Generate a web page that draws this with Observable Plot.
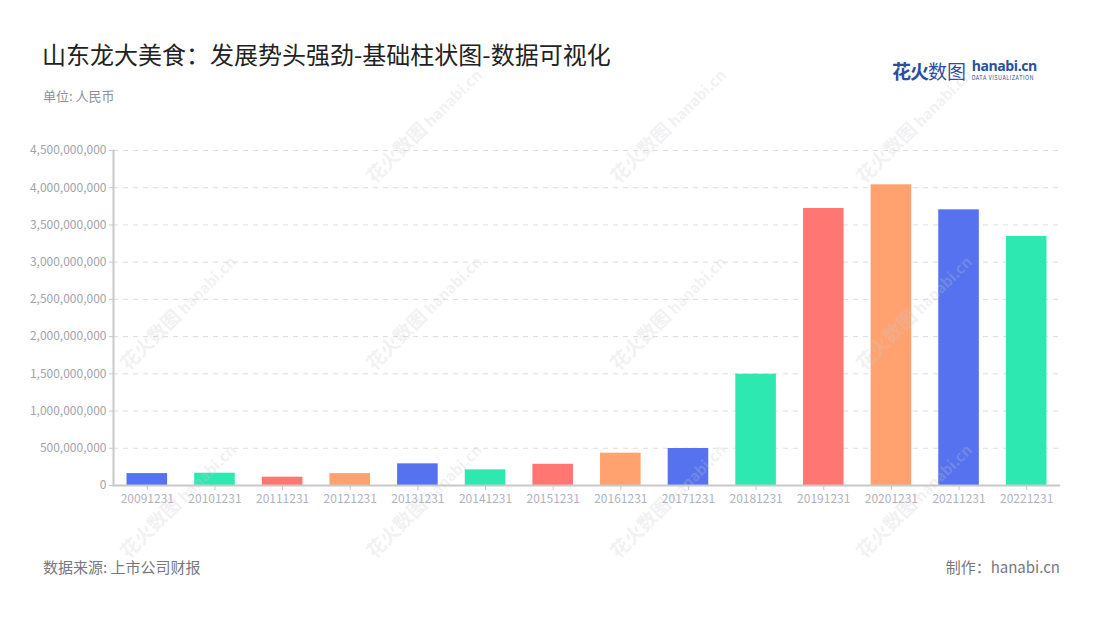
<!DOCTYPE html>
<html>
<head>
<meta charset="utf-8">
<script src="https://cdn.jsdelivr.net/npm/d3@7"></script>
<script src="https://cdn.jsdelivr.net/npm/@observablehq/plot@0.6"></script>
<style>
  html, body { margin: 0; padding: 0; background: #fff; }
  body { width: 1100px; height: 620px; position: relative; overflow: hidden; font-family: "Noto Sans CJK SC", "Noto Sans", sans-serif; }
  .abs { position: absolute; white-space: nowrap; }
  #title { left: 42px; top: 36px; font-size: 24px; color: #222; }
  #unit { left: 43px; top: 86px; font-size: 13px; color: #8f8f99; }
  #source { left: 43px; top: 556px; font-size: 15px; color: #77777f; }
  #maker { right: 40px; top: 556px; font-size: 15px; color: #77777f; }
  #logo { left: 892px; top: 57px; }
  #chart { left: 0; top: 130px; }
  .wm { position: absolute; color: rgba(200,200,205,0.25); font-weight: bold; font-size: 19px; transform: rotate(-45deg); transform-origin: left bottom; white-space: nowrap; pointer-events: none; }
  .wm span { font-size: 15px; font-weight: bold; margin-left: 4px; }
</style>
</head>
<body>
<div id="title" class="abs">山东龙大美食：发展势头强劲-基础柱状图-数据可视化</div>
<div id="unit" class="abs">单位: 人民币</div>
<div id="logo" class="abs">
  <span style="font-size:19px;font-weight:bold;color:#2b4f9e;letter-spacing:-1px;">花火</span><span style="font-size:19px;color:#2b4f9e;">数图</span>
  <span style="display:inline-block;vertical-align:top;margin-left:2px;margin-top:0px;">
    <span style="display:block;font-size:14px;line-height:17px;font-weight:bold;color:#2b4f9e;font-family:'Open Sans',sans-serif;letter-spacing:-0.4px;">hanabi.cn</span>
    <span style="display:block;font-size:5.5px;line-height:7px;margin-top:1px;color:#2b4f9e;letter-spacing:0.5px;">DATA VISUALIZATION</span>
  </span>
</div>
<div id="chart" class="abs"></div>
<div id="source" class="abs">数据来源: 上市公司财报</div>
<div id="maker" class="abs">制作：hanabi.cn</div>
<div id="wms"></div>
<script>
const categories = ["20091231","20101231","20111231","20121231","20131231","20141231","20151231","20161231","20171231","20181231","20191231","20201231","20211231","20221231"];
const values = [160000000, 165000000, 112000000, 160000000, 291000000, 210000000, 285000000, 434000000, 497000000, 1495000000, 3721000000, 4039000000, 3703000000, 3345000000];
const palette = ["#5672ee", "#2ee8b1", "#ff7672", "#ffa270"];
const yTicks = [0, 500000000, 1000000000, 1500000000, 2000000000, 2500000000, 3000000000, 3500000000, 4000000000, 4500000000];

const data = categories.map((c, i) => ({cat: c, value: values[i], color: palette[i % palette.length]}));

const chart = Plot.plot({
  width: 1100,
  height: 380,
  marginLeft: 113,
  marginRight: 40,
  marginTop: 20,
  marginBottom: 25,
  style: {fontFamily: "'Noto Sans CJK SC', 'Noto Sans', sans-serif", background: "transparent", overflow: "visible"},
  x: {domain: categories, paddingInner: 0.4, paddingOuter: 0.2, round: false, label: null, axis: null},
  y: {domain: [0, 4500000000], label: null, axis: null},
  marks: [
    Plot.ruleY(yTicks.filter(d => d > 0), {stroke: "#dcdcdc", strokeDasharray: "5,5", strokeWidth: 1}),
    Plot.barY(data, {x: "cat", y: "value", fill: "color"}),
    Plot.axisY({ticks: yTicks, tickFormat: d3.format(","), tickSize: 4, tickPadding: 3, fontSize: 12, color: "#a3a3a8", stroke: "#c8c8c8", label: null}),
    Plot.axisX({tickSize: 5, tickPadding: 4, fontSize: 12, color: "#aeb3bf", stroke: "#c8c8c8", label: null}),
    Plot.ruleY([0], {stroke: "#c8c8c8", strokeWidth: 2}),
    Plot.frame({anchor: "left", stroke: "#c8c8c8", strokeWidth: 2})
  ]
});
document.getElementById("chart").appendChild(chart);

// watermarks
const wmPos = [[378,185],[622,185],[868,185],[132,372],[378,372],[622,372],[868,372],[132,560],[378,560],[622,560],[868,560]];
const wms = document.getElementById("wms");
for (const [x, y] of wmPos) {
  const d = document.createElement("div");
  d.className = "wm";
  d.style.left = x + "px";
  d.style.top = (y - 24) + "px";
  d.innerHTML = "花火数图<span>hanabi.cn</span>";
  wms.appendChild(d);
}
</script>
</body>
</html>
